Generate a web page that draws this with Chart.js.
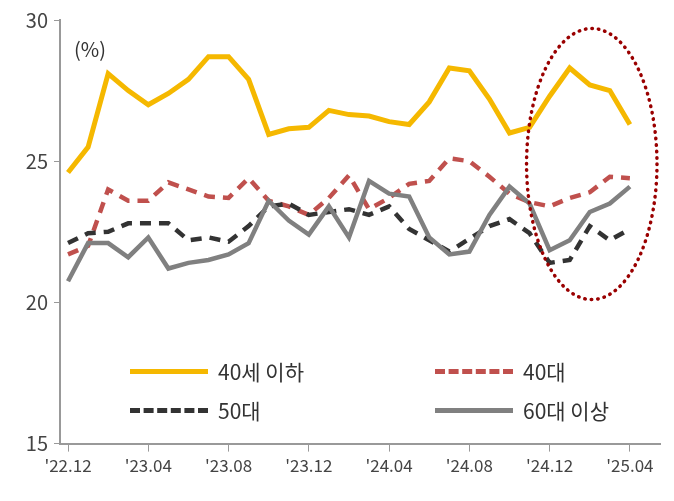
<!DOCTYPE html>
<html><head><meta charset="utf-8">
<script src="https://cdn.jsdelivr.net/npm/chart.js@4/dist/chart.umd.min.js"></script>
<style>
html,body{margin:0;padding:0;background:#fff;}
#wrap{position:relative;width:674px;height:501px;font-family:"Noto Sans CJK KR","Noto Sans",sans-serif;}
.lg{position:absolute;font-size:21px;color:#333;display:flex;align-items:center;}
.sw{width:78px;height:0;margin-right:10px;}
</style></head><body>
<div id="wrap">
<canvas id="c" width="674" height="501"></canvas>
<div class="lg" style="left:130px;top:356px;"><div class="sw" style="border-top:5px solid #F5B800"></div>40세 이하</div>
<div class="lg" style="left:435px;top:356px;"><div class="sw" style="border-top:5px dashed #C0504D"></div>40대</div>
<div class="lg" style="left:130px;top:395px;"><div class="sw" style="border-top:5px dashed #333"></div>50대</div>
<div class="lg" style="left:435px;top:395px;"><div class="sw" style="border-top:5px solid #808080"></div>60대 이상</div>
</div>
<script>
const months = ["'22.12","'23.01","'23.02","'23.03","'23.04","'23.05","'23.06","'23.07","'23.08","'23.09","'23.10","'23.11","'23.12","'24.01","'24.02","'24.03","'24.04","'24.05","'24.06","'24.07","'24.08","'24.09","'24.10","'24.11","'24.12","'25.01","'25.02","'25.03","'25.04"];
const under40 = [24.6,25.5,28.1,27.5,27.0,27.4,27.9,28.7,28.7,27.9,25.95,26.15,26.2,26.8,26.65,26.6,26.4,26.3,27.1,28.3,28.2,27.2,26.0,26.2,27.3,28.3,27.7,27.5,26.3];
const age40s = [21.7,22.0,24.0,23.6,23.6,24.25,24.0,23.75,23.7,24.4,23.6,23.4,23.1,23.7,24.5,23.3,23.7,24.2,24.3,25.1,25.0,24.45,23.85,23.55,23.4,23.7,23.9,24.45,24.4];
const age50s = [22.1,22.45,22.5,22.8,22.8,22.8,22.2,22.3,22.15,22.7,23.4,23.5,23.1,23.2,23.3,23.1,23.4,22.6,22.2,21.8,22.25,22.7,22.95,22.45,21.4,21.5,22.7,22.2,22.6];
const over60 = [20.75,22.1,22.1,21.6,22.3,21.2,21.4,21.5,21.7,22.1,23.6,22.9,22.4,23.4,22.3,24.3,23.85,23.75,22.3,21.7,21.8,23.1,24.1,23.5,21.85,22.2,23.2,23.5,24.1];
const yTicks = [15,20,25,30];

const pts = a => a.map((v,i)=>({x:i,y:v}));
const ellipse = {id:'ellipse',afterDatasetsDraw(ch){
  const {ctx,scales:{x,y}}=ch;
  const cx=x.getPixelForValue(26.1), cy=y.getPixelForValue(24.9);
  const rx=x.getPixelForValue(29.35)-cx, ry=y.getPixelForValue(20.1)-cy;
  ctx.save();ctx.strokeStyle='#9A0000';ctx.lineWidth=3.5;ctx.setLineDash([0.5,6]);ctx.lineCap='round';
  ctx.beginPath();ctx.ellipse(cx,cy,rx,ry,0,0,Math.PI*2);ctx.stroke();
  ctx.setLineDash([]);ctx.fillStyle='#333';ctx.font='20px "Noto Sans CJK KR",sans-serif';ctx.textBaseline='middle';
  ctx.fillText('(%)',x.left+14,y.getPixelForValue(28.95));
  ctx.restore();
}};
const ds = (label,data,color,dash,w)=>({label,data:pts(data),borderColor:color,borderWidth:w,borderDash:dash,pointRadius:0,tension:0,fill:false});
new Chart(document.getElementById('c'),{
  type:'line',
  data:{datasets:[
    ds('60대 이상',over60,'#808080',[],4.5),
    ds('50대',age50s,'#333333',[11,8],4.5),
    ds('40대',age40s,'#C0504D',[11,8],4.5),
    ds('40세 이하',under40,'#F5B800',[],5)
  ]},
  options:{responsive:false,animation:false,
    layout:{padding:{top:20,right:14,left:0,bottom:21}},
    plugins:{legend:{display:false},tooltip:{enabled:false}},
    scales:{
      x:{type:'linear',min:-0.4,max:29.5,grid:{display:true,drawOnChartArea:false,color:'#999',tickLength:8},border:{color:'#999',width:2},
        afterBuildTicks(s){s.ticks=[0,4,8,12,16,20,24,28].map(v=>({value:v}));},
        ticks:{color:'#444',font:{size:17,family:'"Noto Sans CJK KR",sans-serif'},maxRotation:0,autoSkip:false,padding:4,callback:v=>months[v]}},
      y:{min:15,max:30,afterBuildTicks(s){s.ticks=yTicks.map(v=>({value:v}));},afterFit(s){s.width=60;},
        grid:{display:true,drawOnChartArea:false,color:'#999',tickLength:6},border:{color:'#999',width:2},
        ticks:{color:'#444',font:{size:20,family:'"Noto Sans CJK KR",sans-serif'},padding:6}}
    }
  },
  plugins:[ellipse]
});
</script></body></html>
